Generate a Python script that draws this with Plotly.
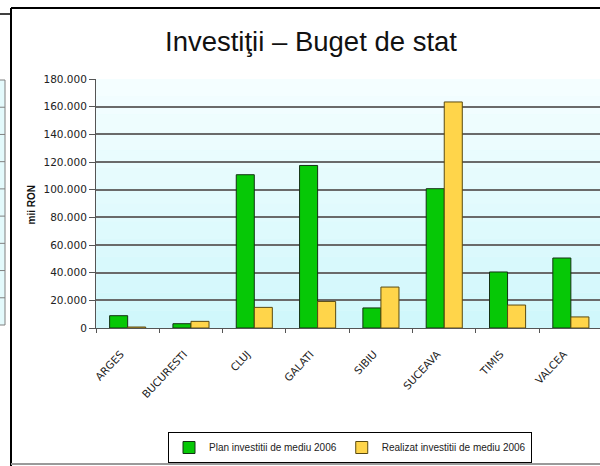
import plotly.graph_objects as go

categories = ["ARGES", "BUCURESTI", "CLUJ", "GALATI", "SIBIU", "SUCEAVA", "TIMIS", "VALCEA"]
plan_2006 = [8900, 3100, 110800, 117500, 14500, 100700, 40500, 50600]
realizat_2006 = [700, 4800, 14900, 19200, 29600, 163400, 16600, 8000]
series_names = ["Plan investitii de mediu 2006", "Realizat investitii de mediu 2006"]
y_ticks = [0, 20000, 40000, 60000, 80000, 100000, 120000, 140000, 160000, 180000]

W, H = 600, 466
L, R, T, B = 96, 0, 79, 138
pw = W - L - R
ph = H - T - B

def px(x):
    return (x - L) / pw

def py(y):
    return (H - B - y) / ph

fig = go.Figure()
fig.add_trace(go.Bar(
    x=categories, y=plan_2006, name=series_names[0],
    marker=dict(color="#06c806", line=dict(color="#143214", width=1)),
))
fig.add_trace(go.Bar(
    x=categories, y=realizat_2006, name=series_names[1],
    marker=dict(color="#ffd54a", line=dict(color="#5a4a10", width=1)),
))

# soft vertical gradient in the plot area (decoration)
n_bands = 14
top_rgb = (244, 254, 255)
bot_rgb = (208, 247, 251)
shapes = []
for i in range(n_bands):
    f = i / (n_bands - 1)
    c = tuple(round(top_rgb[k] + (bot_rgb[k] - top_rgb[k]) * f) for k in range(3))
    shapes.append(dict(type="rect", xref="paper", yref="paper",
                       x0=0, x1=1, y0=1 - (i + 1) / n_bands, y1=1 - i / n_bands,
                       fillcolor="rgb(%d,%d,%d)" % c, line=dict(width=0), layer="below"))

shapes += [
    # outer frame of chart
    dict(type="line", xref="paper", yref="paper", x0=px(11), x1=px(600), y0=py(8), y1=py(8),
         line=dict(color="black", width=2)),
    dict(type="line", xref="paper", yref="paper", x0=px(11), x1=px(11), y0=py(8), y1=py(466),
         line=dict(color="black", width=2)),
    dict(type="line", xref="paper", yref="paper", x0=px(11), x1=px(600), y0=py(464), y1=py(464),
         line=dict(color="#9a9a9a", width=2)),
    # sliver of neighbouring chart on the left
    dict(type="line", xref="paper", yref="paper", x0=px(0), x1=px(10), y0=py(14), y1=py(14),
         line=dict(color="black", width=1.5)),
    dict(type="rect", xref="paper", yref="paper", x0=px(-2), x1=px(5), y0=py(325), y1=py(80),
         fillcolor="#e4fafc", line=dict(color="#808080", width=1)),
]
for k in range(1, 9):
    yy = 80 + (325 - 80) * k / 9
    shapes.append(dict(type="line", xref="paper", yref="paper", x0=px(0), x1=px(5),
                       y0=py(yy), y1=py(yy), line=dict(color="#808080", width=1)))

fig.update_layout(
    width=W, height=H,
    margin=dict(l=L, r=R, t=T, b=B, autoexpand=False),
    paper_bgcolor="white",
    plot_bgcolor="#e6fafc",
    separators=",.",
    barmode="group",
    bargap=0.43,
    bargroupgap=0,
    font=dict(family="Liberation Sans, Arial, sans-serif", size=11, color="#222222"),
    title=dict(
        text="Investiţii – Buget de stat",
        x=311 / W, xanchor="center", xref="container",
        y=1 - 41 / H, yanchor="middle", yref="container",
        font=dict(family="Liberation Sans, Arial, sans-serif", size=27.5, color="#111111"),
    ),
    xaxis=dict(
        range=[-0.5, 7.46],
        tickangle=-47,
        ticks="outside", tickson="boundaries", ticklen=4, tickcolor="#555555",
        ticklabelstandoff=15, ticklabelshift=-7,
        showline=True, linecolor="#555555", linewidth=1,
        showgrid=False, automargin=False,
        tickfont=dict(family="DejaVu Sans, sans-serif", size=10.5, color="#222222"),
    ),
    yaxis=dict(
        range=[0, 180000],
        tickvals=y_ticks,
        tickformat=",d",
        ticks="outside", ticklen=6, tickcolor="#555555",
        showline=True, linecolor="#555555", linewidth=1,
        showgrid=True, gridcolor="#6a6a6a", gridwidth=2,
        zeroline=False, automargin=False,
        tickfont=dict(family="DejaVu Sans, sans-serif", size=10.5, color="#222222"),
    ),
    legend=dict(
        orientation="h",
        xref="container", yref="container",
        x=168 / W, xanchor="left",
        y=1 - 432 / H, yanchor="top",
        bordercolor="black", borderwidth=1,
        bgcolor="white",
        font=dict(size=10, color="#222222"),
        itemwidth=30,
        tracegroupgap=0,
    ),
    shapes=shapes,
    annotations=[
        dict(text="<b>mii RON</b>", xref="paper", yref="paper",
             x=px(23), y=py(205), showarrow=False, textangle=-90,
             font=dict(size=10, color="#111111")),
    ],
    showlegend=True,
)

fig.write_html("out.html", post_script="document.body.style.margin='0';",
               config={"displayModeBar": False})
